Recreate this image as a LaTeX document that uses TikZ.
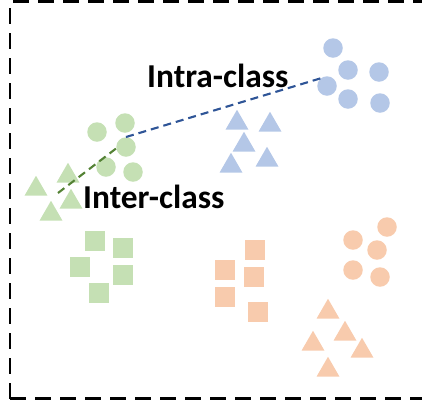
\documentclass[tikz,border=0pt]{standalone}
\usepackage{fontspec}
\setmainfont{Carlito}
\usetikzlibrary{shapes.geometric}
\definecolor{lgreen}{HTML}{C5E0B4}
\definecolor{lblue}{HTML}{B4C7E7}
\definecolor{lorange}{HTML}{F8CBAD}
\definecolor{dblue}{HTML}{2F5597}
\definecolor{dgreen}{HTML}{548235}
\tikzset{
  dot/.style={circle,inner sep=0pt,minimum size=19.5pt,fill=#1},
  sq/.style={rectangle,inner sep=0pt,minimum size=20pt,fill=#1},
  tri/.style={regular polygon,regular polygon sides=3,inner sep=0pt,minimum size=26.5pt,fill=#1},
  frame/.style={line width=2.6pt,dash pattern=on 16pt off 9pt},
  link/.style={line width=2.1pt,dash pattern=on 8pt off 5pt,#1},
  lbl/.style={font=\bfseries\fontsize{33.4}{33.4}\selectfont,inner sep=0pt,anchor=base west}
}
\begin{document}
\begin{tikzpicture}[x=1pt,y=-1pt]
\useasboundingbox (0,0) rectangle (422,405);
\begin{scope}
\clip (0,0) rectangle (422,405);
\draw[frame] (10,398.5) -- (10,1.5) -- (440,1.5);
\draw[frame] (10,398.5) -- (440,398.5);
\end{scope}
% blue circles
\node[dot=lblue] (bc1) at (333,48) {};
\node[dot=lblue] (bc2) at (348,70) {};
\node[dot=lblue] (bc3) at (379,72) {};
\node[dot=lblue] (bc4) at (327,86) {};
\node[dot=lblue] (bc5) at (348,99) {};
\node[dot=lblue] (bc6) at (380,103) {};
% blue triangles
\node[tri=lblue] (bt1) at (237,123) {};
\node[tri=lblue] (bt2) at (270,125) {};
\node[tri=lblue] (bt3) at (244,145) {};
\node[tri=lblue] (bt4) at (231,166) {};
\node[tri=lblue] (bt5) at (267,160) {};
% green circles
\node[dot=lgreen] (gc1) at (97,132) {};
\node[dot=lgreen] (gc2) at (125,123) {};
\node[dot=lgreen] (gc3) at (126,147) {};
\node[dot=lgreen] (gc4) at (106,167) {};
\node[dot=lgreen] (gc5) at (133,172) {};
% green triangles
\node[tri=lgreen] (gt1) at (36,189) {};
\node[tri=lgreen] (gt2) at (68,176) {};
\node[tri=lgreen] (gt3) at (71,202) {};
\node[tri=lgreen] (gt4) at (51,214) {};
% green squares
\node[sq=lgreen] (gs1) at (95,241) {};
\node[sq=lgreen] (gs2) at (123,248) {};
\node[sq=lgreen] (gs3) at (80,267) {};
\node[sq=lgreen] (gs4) at (123,275) {};
\node[sq=lgreen] (gs5) at (99,293) {};
% orange squares
\node[sq=lorange] (os1) at (225,270) {};
\node[sq=lorange] (os2) at (255,250) {};
\node[sq=lorange] (os3) at (254,277) {};
\node[sq=lorange] (os4) at (225,297) {};
\node[sq=lorange] (os5) at (258,312) {};
% orange circles
\node[dot=lorange] (oc1) at (387,227) {};
\node[dot=lorange] (oc2) at (353,240) {};
\node[dot=lorange] (oc3) at (377,250) {};
\node[dot=lorange] (oc4) at (353,270) {};
\node[dot=lorange] (oc5) at (380,277) {};
% orange triangles
\node[tri=lorange] (ot1) at (328,312) {};
\node[tri=lorange] (ot2) at (345,334) {};
\node[tri=lorange] (ot3) at (313,344) {};
\node[tri=lorange] (ot4) at (362,351) {};
\node[tri=lorange] (ot5) at (328,370) {};
% connectors
\coordinate (ga) at (58,193);
\coordinate (gb) at (118,147);
\coordinate (ba) at (126,137);
\coordinate (bb) at (325,77);
\draw[link=dgreen] (ga) -- (gb);
\draw[link=dblue] (ba) -- (bb);
% labels
\node[lbl] (intra) at (147,87) {Intra-class};
\node[lbl] (inter) at (83,208) {Inter-class};
\end{tikzpicture}
\end{document}
